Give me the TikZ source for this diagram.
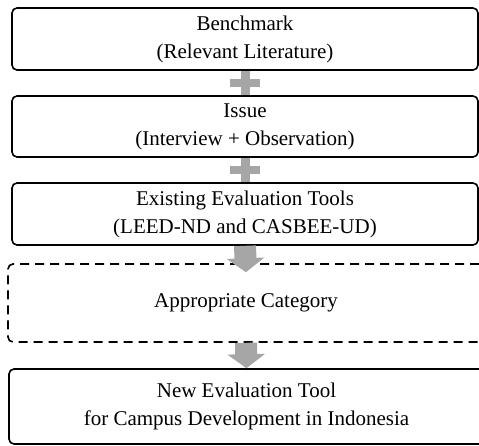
\documentclass[tikz,border=0pt]{standalone}
\usepackage{fontspec}
\setmainfont{Liberation Serif}
\usetikzlibrary{arrows.meta}
\definecolor{plusgray}{rgb}{0.65,0.65,0.65}
\tikzset{
	stage/.style={draw,line width=1.6pt,rounded corners=5pt,align=center,
		font=\fontsize{21}{28}\selectfont,inner sep=0pt},
	plusbar/.style={plusgray,line width=9pt},
	bigarrow/.style={plusgray,line width=22pt,-{Triangle[width=37pt,length=14pt]}},
}

\begin{document}
\begin{tikzpicture}[x=1pt,y=-1pt]
	\useasboundingbox (0,0) rectangle (479,445);

	%stages
	\node[stage,minimum width=466pt,minimum height=62pt](bench) at (245,39)
	{Benchmark\\(Relevant Literature)};
	\node[stage,minimum width=466pt,minimum height=61pt](issue) at (245,126.5)
	{Issue\\(Interview + Observation)};
	\node[stage,minimum width=466pt,minimum height=62pt](tools) at (245,214)
	{Existing Evaluation Tools\\(LEED-ND and CASBEE-UD)};

	%dashed stage
	\node[stage,dash pattern=on 9pt off 6pt,minimum width=476pt,minimum height=78pt](categ) at (246,303)
	{Appropriate Category};

	%result
	\node[stage,minimum width=475pt,minimum height=75pt](newtool) at (246.5,406.5)
	{New Evaluation Tool\\for Campus Development in Indonesia};

	%plus signs
	\draw[plusbar] (bench.south) -- node[fill=plusgray,minimum width=30pt,minimum height=8pt,inner sep=0pt](plusa){} (issue.north);
	\draw[plusbar] (issue.south) -- node[fill=plusgray,minimum width=30pt,minimum height=8pt,inner sep=0pt](plusb){} (tools.north);

	%arrows
	\draw[bigarrow] (tools.south) -- ([yshift=-9pt]categ.north);
	\draw[bigarrow] (categ.south) -- (newtool.north);
\end{tikzpicture}
\end{document}
